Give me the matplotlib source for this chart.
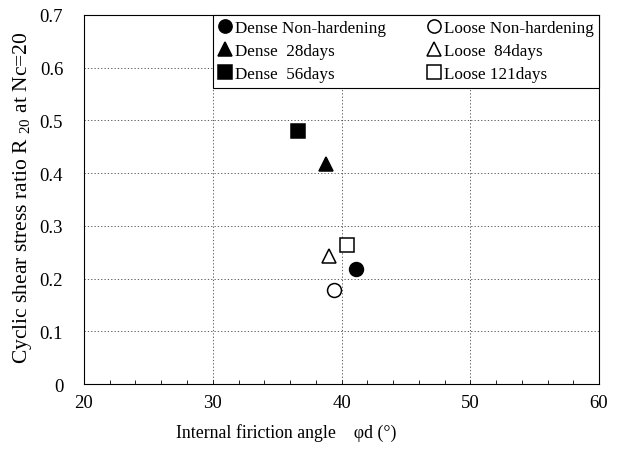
import matplotlib
matplotlib.use("Agg")
import matplotlib.pyplot as plt
from matplotlib.ticker import MultipleLocator

plt.rcParams['font.family'] = ['Liberation Serif', 'DejaVu Serif']
plt.rcParams['mathtext.fontset'] = 'stix'

# data (legend order: dense column, then loose column)
labels = ['Dense Non-hardening', 'Dense  28days', 'Dense  56days',
          'Loose Non-hardening', 'Loose  84days', 'Loose 121days']
phi_d = [41.1, 38.8, 36.6, 39.4, 39.05, 40.4]
r20 = [0.218, 0.418, 0.479, 0.178, 0.242, 0.263]
markers = ['o', '^', 's', 'o', '^', 's']
filled = [True, True, True, False, False, False]

xticks = [20, 30, 40, 50, 60]
yticks = [0, 0.1, 0.2, 0.3, 0.4, 0.5, 0.6, 0.7]
ytick_labels = ['0', '0.1', '0.2', '0.3', '0.4', '0.5', '0.6', '0.7']

fig = plt.figure(figsize=(6.24, 4.56), dpi=100)
ax = fig.add_axes([0.1346, 0.1557, 0.8254, 0.8093])

for lab, x, y, m, f in zip(labels, phi_d, r20, markers, filled):
    ax.plot([x], [y], linestyle='none', marker=m, markersize=10,
            markerfacecolor='black' if f else 'white',
            markeredgecolor='black', markeredgewidth=1.1, label=lab, zorder=3)

ax.set_xlim(20, 60)
ax.set_ylim(0, 0.7)
ax.set_xticks(xticks)
ax.set_xticklabels([str(t) for t in xticks])
ax.set_yticks(yticks)
ax.set_yticklabels(ytick_labels)
ax.xaxis.set_minor_locator(MultipleLocator(2))
ax.tick_params(axis='both', which='both', direction='in', length=3, width=0.6,
               labelsize=13.5)
ax.tick_params(axis='x', which='major', pad=7)
ax.tick_params(axis='y', which='major', pad=15, length=0)

ax.grid(True, which='major', color='0.25', linestyle=(0, (1.5, 2.5)), linewidth=0.6)
for s in ax.spines.values():
    s.set_linewidth(0.8)

ax.set_xlabel('Internal firiction angle    φd (°)', fontsize=12.8)
ax.xaxis.set_label_coords(0.392, -0.105)
ax.set_ylabel('Cyclic shear stress ratio R $_{\\mathregular{20}}$ at Nc=20', fontsize=15.5)
ax.yaxis.set_label_coords(-0.097, 0.507)

leg = ax.legend(loc='upper left', bbox_to_anchor=(0.25, 0.0, 0.75, 1.0), mode='expand',
                ncol=2, fontsize=12.3, frameon=True, fancybox=False, framealpha=1,
                edgecolor='black', borderaxespad=0, handlelength=0.8,
                handletextpad=0.2, labelspacing=0.42, borderpad=0.3,
                columnspacing=1.0, markerscale=0.95)
leg.get_frame().set_linewidth(0.8)
leg.set_zorder(5)

fig.savefig('out.png', dpi=100)
